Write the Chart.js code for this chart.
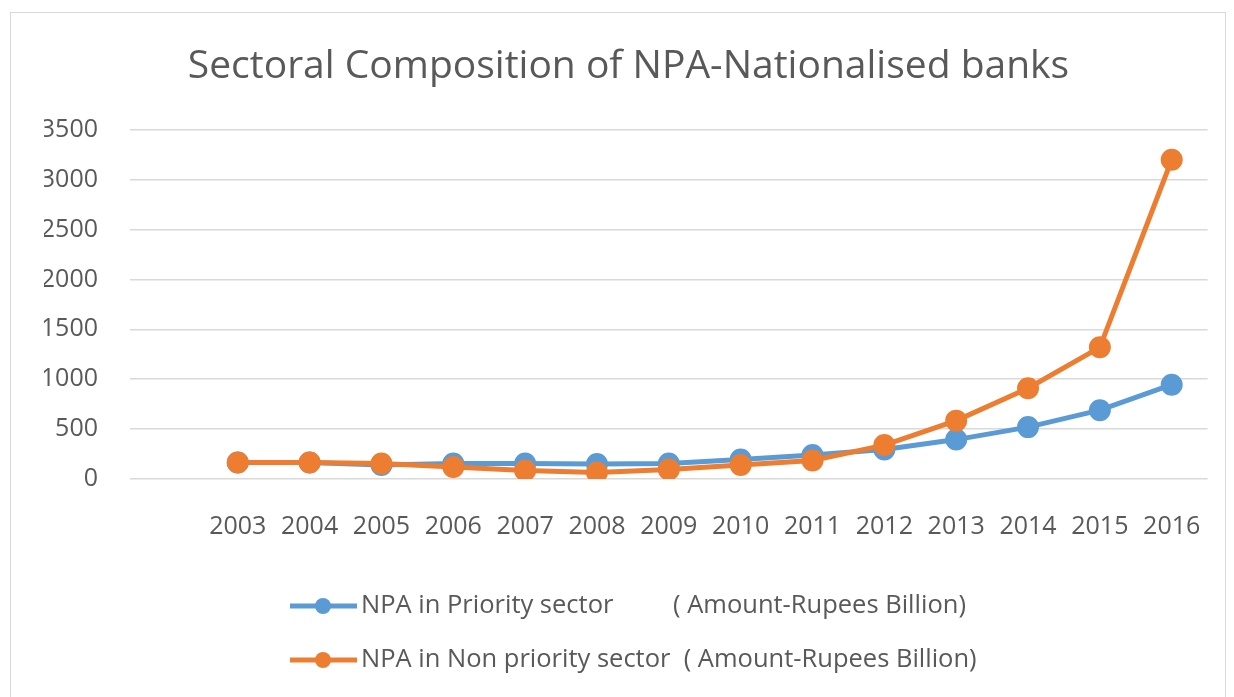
<!DOCTYPE html>
<html>
<head>
<meta charset="utf-8">
<script src="https://cdn.jsdelivr.net/npm/chart.js@4.4.1/dist/chart.umd.min.js"></script>
<style>
  html, body { margin: 0; padding: 0; background: #ffffff; }
  #wrap { position: relative; width: 1234px; height: 697px; overflow: hidden; }
  #frame { position: absolute; left: 10px; top: 12px; width: 1214px; height: 720px; border: 1px solid #d9d9d9; pointer-events: none; }
</style>
</head>
<body>
<div id="wrap">
  <canvas id="npaChart" width="1234" height="697"></canvas>
  <div id="frame"></div>
</div>
<script>
// first category is blank in the original sheet
const years = ["", "2003", "2004", "2005", "2006", "2007", "2008", "2009", "2010", "2011", "2012", "2013", "2014", "2015", "2016"];
const prioritySector = [null, 165, 165, 140, 155, 155, 150, 155, 195, 240, 295, 395, 520, 690, 945];
const nonPrioritySector = [null, 165, 165, 155, 120, 85, 65, 95, 140, 185, 340, 585, 910, 1320, 3200];
const yTicks = [0, 500, 1000, 1500, 2000, 2500, 3000, 3500];

const priorityLabel = "NPA in Priority sector         ( Amount-Rupees Billion)";
const nonPriorityLabel = "NPA in Non priority sector  ( Amount-Rupees Billion)";

const textGrey = "#595959";
const fontFam = "'Open Sans', sans-serif";

// legend drawn by hand: line + dot marker, stacked rows, left aligned
const lineLegend = {
    id: "lineLegend",
    afterDraw(chart) {
        const ctx = chart.ctx;
        const area = chart.chartArea;
        ctx.save();
        [0, 1].forEach(function (i, row) {
            const ds = chart.data.datasets[i];
            const y = area.bottom + 127 + row * 54;
            const x0 = 290;
            ctx.strokeStyle = ds.borderColor;
            ctx.lineWidth = 5;
            ctx.beginPath();
            ctx.moveTo(x0, y);
            ctx.lineTo(x0 + 67, y);
            ctx.stroke();
            ctx.fillStyle = ds.backgroundColor;
            ctx.beginPath();
            ctx.arc(x0 + 33, y, 8, 0, Math.PI * 2);
            ctx.fill();
            ctx.fillStyle = textGrey;
            ctx.font = "25.5px " + fontFam;
            ctx.textBaseline = "middle";
            ctx.textAlign = "left";
            ctx.fillText(ds.label, x0 + 71, y);
        });
        ctx.restore();
    }
};

const ctx = document.getElementById("npaChart").getContext("2d");

new Chart(ctx, {
    type: "line",
    data: {
        labels: years,
        datasets: [{
            label: priorityLabel,
            data: prioritySector,
            borderColor: "#5b9bd5",
            backgroundColor: "#5b9bd5",
            borderWidth: 5,
            pointRadius: 8.5,
            pointHoverRadius: 8.5,
            order: 1
        }, {
            label: nonPriorityLabel,
            data: nonPrioritySector,
            borderColor: "#ed7d31",
            backgroundColor: "#ed7d31",
            borderWidth: 5,
            pointRadius: 8.5,
            pointHoverRadius: 8.5,
            order: 0
        }]
    },
    options: {
        responsive: false,
        animation: false,
        layout: {
            padding: { top: 0, right: 21, bottom: 158, left: 44 }
        },
        plugins: {
            legend: { display: false },
            tooltip: { enabled: false },
            title: {
                display: true,
                text: "Sectoral Composition of NPA-Nationalised banks",
                color: textGrey,
                font: { family: fontFam, size: 39, weight: "normal" },
                padding: { top: 43, bottom: 40 }
            }
        },
        scales: {
            x: {
                offset: true,
                grid: { display: false, drawTicks: false },
                border: { display: false },
                ticks: {
                    color: textGrey,
                    font: { family: fontFam, size: 25 },
                    padding: 33,
                    maxRotation: 0,
                    autoSkip: false
                },
                afterFit(scale) { scale.height = 60; }
            },
            y: {
                min: 0,
                max: 3500,
                afterBuildTicks(scale) {
                    scale.ticks = yTicks.map(v => ({ value: v }));
                },
                grid: { color: "#d9d9d9", lineWidth: 1.5, drawTicks: false },
                border: { display: false },
                ticks: {
                    color: textGrey,
                    font: { family: fontFam, size: 25 },
                    padding: 32,
                    callback: v => String(v)
                },
                afterFit(scale) { scale.width = 86; }
            }
        }
    },
    plugins: [lineLegend]
});
</script>
</body>
</html>
